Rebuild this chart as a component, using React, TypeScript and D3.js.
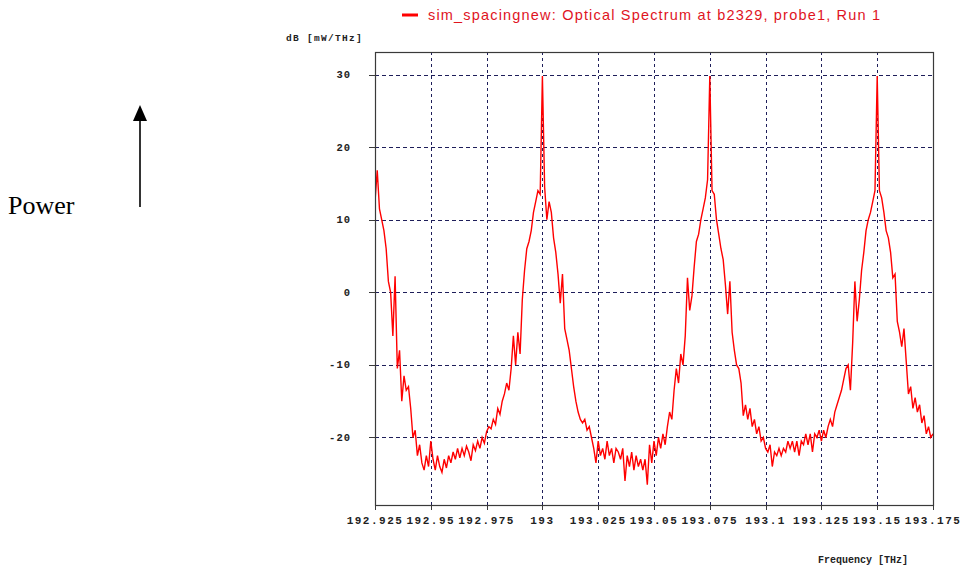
import React from "react";
import * as d3 from "d3";

// Spectrum samples: power in dB [mW/THz], one sample every 1 GHz from 192.925 THz
const FREQ_START = 192.925;
const FREQ_STEP = 0.001;
const POWER_DB: number[] = [
  12.5, 16.8, 11.5, 10, 8.5, 6, 1.5, 0, -6, 2.2,
  -10.5, -8, -15, -11.5, -13.5, -13, -16, -20, -19, -22.5,
  -21, -23.5, -24.5, -22.5, -24, -20.5, -23, -24.5, -22.5, -24,
  -24.8, -23, -24.2, -22.5, -23.5, -22, -23, -21.5, -22.8, -21.5,
  -22.5, -21.2, -22, -23.2, -21, -21.8, -20.5, -21.5, -20, -20.8,
  -19.2, -18.5, -18.8, -17.5, -18.2, -16, -16.8, -15, -14, -12.5,
  -13.5, -10.5, -6, -10, -5.5, -8.5, -1, 3, 6, 7,
  8.5, 11, 12.5, 14, 13.5, 29.8, 14.5, 10, 12.5, 11,
  7.5, 5.5, 2.5, -1.5, 2.5, -5, -6.5, -8, -10.5, -13,
  -15, -16.5, -17.5, -18, -17.5, -19, -18.5, -20, -21.5, -23.5,
  -20.5, -22.5, -21.5, -23, -20.5, -22.5, -21.5, -23.5, -21.5, -22,
  -23, -21.5, -26, -22.5, -24, -22, -24.5, -22.5, -24, -23,
  -24.5, -23, -26.5, -21, -23.5, -20.5, -22.5, -20, -21.5, -19.5,
  -21, -18.5, -16.5, -17.5, -13.5, -10.5, -12.5, -8.5, -10, -6,
  2, -2.5, -0.5, 3.5, 7, 8, 10, 11.5, 13, 15.5,
  29.8, 14, 13.5, 10, 8, 6, 4.5, 1, -3, 1.5,
  -5.5, -8, -10, -10.5, -12.5, -17, -15.5, -17.5, -16, -18.5,
  -17.5, -19.5, -18.5, -20.5, -20, -21.5, -22, -21, -24, -22,
  -22.5, -21.5, -22.5, -21.5, -22, -20.5, -21.5, -20.5, -22, -20.5,
  -22.5, -20.5, -21, -19.5, -21, -19.5, -22, -19.5, -20, -19,
  -20.5, -19, -20, -18.5, -17.5, -18.5, -16.5, -15.5, -14.5, -13.5,
  -12, -10.5, -10, -13.5, -7, 1.5, -4, -1, 3, 5.5,
  8.5, 10, 11, 12.5, 14, 29.8, 14, 13, 11, 8.5,
  7.5, 5.5, 2, 2.5, -4, -5.5, -7.5, -5, -9.5, -14,
  -13, -16, -14.5, -16.5, -15.5, -18, -17, -19.5, -18.5, -20,
  -19.5,
];

const X_TICKS = [192.925, 192.95, 192.975, 193, 193.025, 193.05, 193.075, 193.1, 193.125, 193.15, 193.175];
const X_TICK_LABELS = ["192.925", "192.95", "192.975", "193", "193.025", "193.05", "193.075", "193.1", "193.125", "193.15", "193.175"];
const Y_TICKS = [-20, -10, 0, 10, 20, 30];
const Y_TICK_LABELS = ["-20", "-10", "0", "10", "20", "30"];

const SERIES_NAME = "sim_spacingnew: Optical Spectrum at b2329, probe1, Run 1";
const Y_UNIT = "dB  [mW/THz]";
const X_UNIT = "Frequency [THz]";
const SIDE_LABEL = "Power";

const W = 964;
const H = 568;
const PLOT = { left: 375, right: 933, top: 52, bottom: 505 };

const GRID = "#1e1e5a";
const FRAME = "#3a3a3a";
const TRACE = "#ff0000";
const MONO = "'Liberation Mono', 'DejaVu Sans Mono', monospace";

export default function App() {
  const x = d3.scaleLinear().domain([192.925, 193.175]).range([PLOT.left, PLOT.right]);
  const y = d3.scaleLinear().domain([-29.3, 33.1]).range([PLOT.bottom, PLOT.top]);

  const samples = POWER_DB.map((v, i) => ({ f: FREQ_START + i * FREQ_STEP, v }));
  const line = d3
    .line<{ f: number; v: number }>()
    .x((d) => x(d.f))
    .y((d) => y(d.v));

  const px = (v: number) => Math.round(v) + 0.5;

  return (
    <svg
      width={W}
      height={H}
      viewBox={`0 0 ${W} ${H}`}
      style={{ position: "absolute", left: 0, top: 0, background: "#fff" }}
    >
      <defs>
        <clipPath id="plot-clip">
          <rect x={PLOT.left} y={PLOT.top} width={PLOT.right - PLOT.left} height={PLOT.bottom - PLOT.top} />
        </clipPath>
      </defs>

      {/* side annotation: label and upward arrow */}
      <text x={8} y={214} fontFamily="'Liberation Serif', 'Times New Roman', serif" fontSize={26} fill="#000">
        {SIDE_LABEL}
      </text>
      <line x1={140} y1={207} x2={140} y2={119} stroke="#000" strokeWidth={1.6} />
      <path d="M140,105 L133,121 L147,121 Z" fill="#000" />

      {/* legend */}
      <line x1={402} x2={418} y1={15} y2={15} stroke={TRACE} strokeWidth={3} />
      <text x={428} y={20} fontFamily="'Liberation Sans', Arial, sans-serif" fontSize={14.5} fill="#e0141e" textLength={452} lengthAdjust="spacing">
        {SERIES_NAME}
      </text>

      {/* y unit */}
      <text x={286} y={41} fontFamily={MONO} fontSize={9.5} fontWeight="bold" fill="#222" letterSpacing={1.3}>
        {Y_UNIT}
      </text>

      {/* grid */}
      {Y_TICKS.map((t) => (
        <line key={`gy${t}`} x1={PLOT.left} x2={PLOT.right} y1={px(y(t))} y2={px(y(t))} stroke={GRID} strokeWidth={1} strokeDasharray="4,3" />
      ))}
      {X_TICKS.slice(1, -1).map((t) => (
        <line key={`gx${t}`} x1={px(x(t))} x2={px(x(t))} y1={PLOT.top} y2={PLOT.bottom} stroke={GRID} strokeWidth={1} strokeDasharray="3,3" />
      ))}

      {/* spectrum trace */}
      <path d={line(samples) ?? ""} fill="none" stroke={TRACE} strokeWidth={1.4} strokeLinejoin="miter" clipPath="url(#plot-clip)" />

      {/* frame */}
      <rect
        x={PLOT.left + 0.5}
        y={PLOT.top + 0.5}
        width={PLOT.right - PLOT.left}
        height={PLOT.bottom - PLOT.top}
        fill="none"
        stroke={FRAME}
        strokeWidth={1.2}
      />

      {/* y axis ticks and labels */}
      {Y_TICKS.map((t, i) => (
        <g key={`yt${t}`}>
          <line x1={PLOT.left - 6} x2={PLOT.left} y1={px(y(t))} y2={px(y(t))} stroke={FRAME} strokeWidth={1} />
          <text x={351} y={y(t) + 3.5} textAnchor="end" fontFamily={MONO} fontSize={10.5} fontWeight="bold" fill="#222" letterSpacing={1}>
            {Y_TICK_LABELS[i]}
          </text>
        </g>
      ))}

      {/* x axis ticks and labels */}
      {X_TICKS.map((t, i) => (
        <g key={`xt${t}`}>
          <line x1={px(x(t))} x2={px(x(t))} y1={PLOT.bottom} y2={PLOT.bottom + 5} stroke={FRAME} strokeWidth={1} />
          <text x={x(t)} y={524} textAnchor="middle" fontFamily={MONO} fontSize={11} fontWeight="bold" fill="#222" letterSpacing={1.5}>
            {X_TICK_LABELS[i]}
          </text>
        </g>
      ))}

      <text x={818} y={563} fontFamily={MONO} fontSize={10} fontWeight="bold" fill="#222">
        {X_UNIT}
      </text>
    </svg>
  );
}
